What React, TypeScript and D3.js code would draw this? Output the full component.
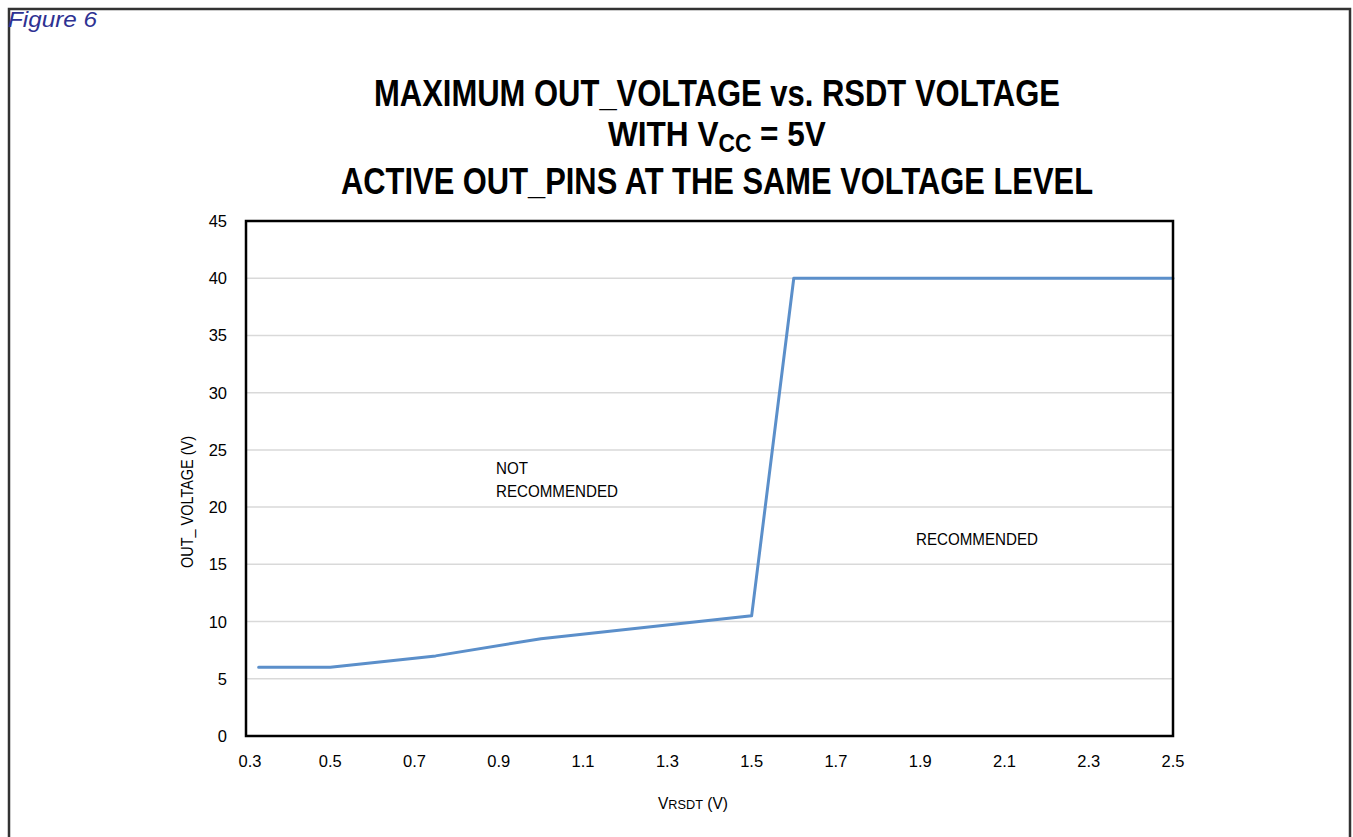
import React from "react";
import * as d3 from "d3";

const rsdtVolts = [0.33, 0.5, 0.75, 1.0, 1.5, 1.6, 2.5];
const maxOutVolts = [6, 6, 7, 8.5, 10.5, 40, 40];
const xTickLabels = ["0.3", "0.5", "0.7", "0.9", "1.1", "1.3", "1.5", "1.7", "1.9", "2.1", "2.3", "2.5"];
const yTickLabels = [0, 5, 10, 15, 20, 25, 30, 35, 40, 45];

const W = 1353;
const H = 837;
const plot = { left: 246, right: 1173, top: 221, bottom: 736 };

const narrow = "'Liberation Sans Narrow', 'Arial Narrow', 'Liberation Sans', Arial, sans-serif";
const sans = "'Liberation Sans', Arial, sans-serif";

const App: React.FC = () => {
  const x = d3.scaleLinear().domain([0.3, 2.5]).range([plot.left, plot.right]);
  const y = d3.scaleLinear().domain([0, 45]).range([plot.bottom, plot.top]);

  const line = d3
    .line<number>()
    .x((_, i) => x(rsdtVolts[i]))
    .y((d) => y(d));

  return (
    <svg
      width={W}
      height={H}
      style={{ position: "absolute", left: 0, top: 0, background: "#fff" }}
    >
      {/* outer frame */}
      <rect x={9} y={9} width={1341} height={840} fill="none" stroke="#333" strokeWidth={2.5} />
      <text
        x={8}
        y={27}
        fontFamily={sans}
        fontStyle="italic"
        fontSize={22}
        fill="#2e3192"
        textLength={89}
        lengthAdjust="spacingAndGlyphs"
      >
        Figure 6
      </text>

      {/* title */}
      <g fontFamily={narrow} fontWeight="bold" fontSize={36} fill="#000">
        <text x={717} y={106} textAnchor="middle" textLength={686} lengthAdjust="spacingAndGlyphs">
          MAXIMUM OUT_VOLTAGE vs. RSDT VOLTAGE
        </text>
        {/* line 2: one text, squeezed horizontally, subscript dropped */}
        <text transform="translate(608,146) scale(0.877,1)" x={0} y={0}>
          WITH V<tspan fontSize={26} dy={6}>CC</tspan>
          <tspan dy={-6}> = 5V</tspan>
        </text>
        <text x={717} y={194} textAnchor="middle" textLength={752} lengthAdjust="spacingAndGlyphs">
          ACTIVE OUT_PINS AT THE SAME VOLTAGE LEVEL
        </text>
      </g>

      {/* gridlines */}
      {yTickLabels.slice(1, -1).map((v) => (
        <line key={v} x1={plot.left} x2={plot.right} y1={y(v)} y2={y(v)} stroke="#d9d9d9" strokeWidth={1.5} />
      ))}

      {/* series */}
      <path
        d={line(maxOutVolts) ?? ""}
        fill="none"
        stroke="#5b8fca"
        strokeWidth={3}
        strokeLinejoin="round"
        strokeLinecap="round"
      />

      {/* plot frame */}
      <rect
        x={plot.left}
        y={plot.top}
        width={plot.right - plot.left}
        height={plot.bottom - plot.top}
        fill="none"
        stroke="#000"
        strokeWidth={2.5}
      />

      {/* y ticks */}
      <g fontFamily={sans} fontSize={16.5} fill="#000" textAnchor="end">
        {yTickLabels.map((v) => (
          <text key={v} x={227} y={y(v) + 6}>
            {v}
          </text>
        ))}
      </g>

      {/* x ticks */}
      <g fontFamily={sans} fontSize={16.5} fill="#000" textAnchor="middle">
        {xTickLabels.map((t) => (
          <text key={t} x={x(+t) + (t === "0.3" ? 4 : 0)} y={767}>
            {t}
          </text>
        ))}
      </g>

      {/* axis titles */}
      <text
        transform="translate(193,502) rotate(-90)"
        fontFamily={sans}
        fontSize={16.5}
        textAnchor="middle"
        fill="#000"
        textLength={132}
        lengthAdjust="spacingAndGlyphs"
      >
        OUT_ VOLTAGE (V)
      </text>
      <text
        x={693}
        y={809}
        fontFamily={sans}
        fontSize={16.5}
        textAnchor="middle"
        fill="#000"
        textLength={70}
        lengthAdjust="spacingAndGlyphs"
      >
        V<tspan fontSize={13.5}>RSDT</tspan> (V)
      </text>

      {/* region annotations */}
      <g fontFamily={sans} fontSize={16} fill="#000">
        <text x={496} y={474} textLength={32} lengthAdjust="spacingAndGlyphs">NOT</text>
        <text x={496} y={497} textLength={122} lengthAdjust="spacingAndGlyphs">RECOMMENDED</text>
        <text x={916} y={545} textLength={122} lengthAdjust="spacingAndGlyphs">RECOMMENDED</text>
      </g>
    </svg>
  );
};

export default App;
